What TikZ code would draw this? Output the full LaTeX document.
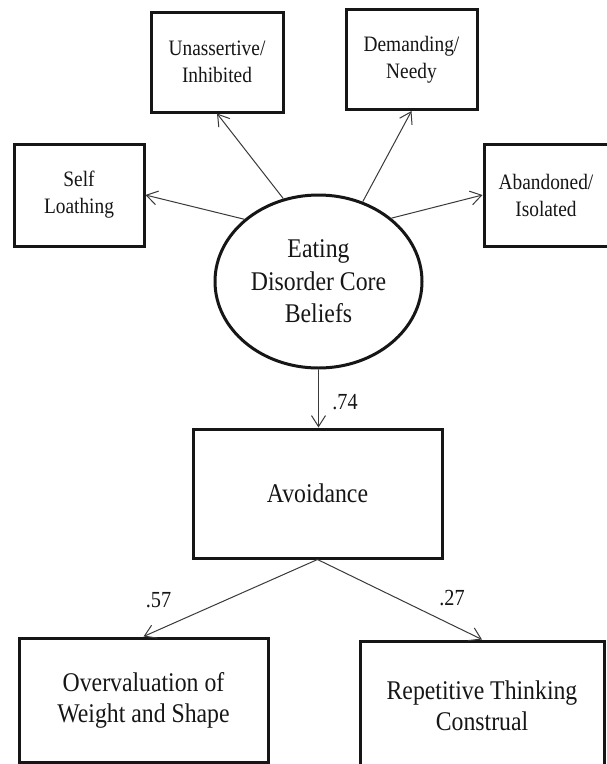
\documentclass[tikz,border=0pt]{standalone}
\usepackage{fontspec}
\setmainfont{Liberation Serif}[FakeStretch=0.88]
\usetikzlibrary{arrows.meta,shapes.geometric}
\definecolor{ink}{HTML}{161616}
\definecolor{wire}{HTML}{3A3A3A}
\tikzset{
  topbox/.style={draw=ink, line width=3pt, rectangle, inner sep=0pt, align=center, text=ink,
    font=\fontsize{22}{27}\selectfont},
  bigbox/.style={draw=ink, line width=3pt, rectangle, inner sep=0pt, align=center, text=ink,
    font=\fontsize{27}{31}\selectfont},
  latent/.style={draw=ink, line width=3pt, ellipse, inner sep=0pt, align=center, text=ink,
    minimum width=207pt, minimum height=173pt, font=\fontsize{27}{32.5}\selectfont},
  arr/.style={draw=wire, line width=1pt, -{Straight Barb[length=11pt,width=14pt,line width=1pt]}},
  coef/.style={text=ink, inner sep=0pt, font=\fontsize{23}{25}\selectfont}
}
\begin{document}
\begin{tikzpicture}[x=1pt,y=-1pt]
\useasboundingbox[fill=white] (0,0) rectangle (606,764);
\node[topbox, minimum width=130pt, minimum height=102pt] (self) at (79,195) {Self\\Loathing};
\node[topbox, minimum width=132pt, minimum height=100pt] (unas) at (217,62) {Unassertive/\\Inhibited};
\node[topbox, minimum width=131pt, minimum height=100pt] (dem) at (411.5,59.5) {Demanding/\\Needy};
\node[topbox, minimum width=124pt, minimum height=102pt] (aban) at (546,195) {Abandoned/\\Isolated};
\node[latent] (ell) at (318.5,281.5) {Eating\\Disorder Core\\Beliefs};
\node[bigbox, minimum width=249pt, minimum height=129pt] (avoid) at (317.5,493.5) {Avoidance};
\node[bigbox, minimum width=249pt, minimum height=124pt] (over) at (143.5,700) {Overvaluation of\\Weight and Shape};
\node[bigbox, minimum width=244pt, minimum height=129pt] (rep) at (482,705.5) {Repetitive Thinking\\Construal};
\draw[arr] (ell.140) -- (self.east);
\draw[arr] (ell.113) -- (unas.south);
\draw[arr] (ell.61) -- (dem.south);
\draw[arr] (ell.41) -- (aban.west);
\draw[arr] (ell.south) -- (ell.south |- avoid.north);
\draw[arr] (avoid.south) -- (over.north);
\draw[arr] (avoid.south) -- (rep.north);
\node[coef] (c74) at (345,402) {.74};
\node[coef] (c57) at (158.5,600) {.57};
\node[coef] (c27) at (452,598) {.27};
\end{tikzpicture}
\end{document}
